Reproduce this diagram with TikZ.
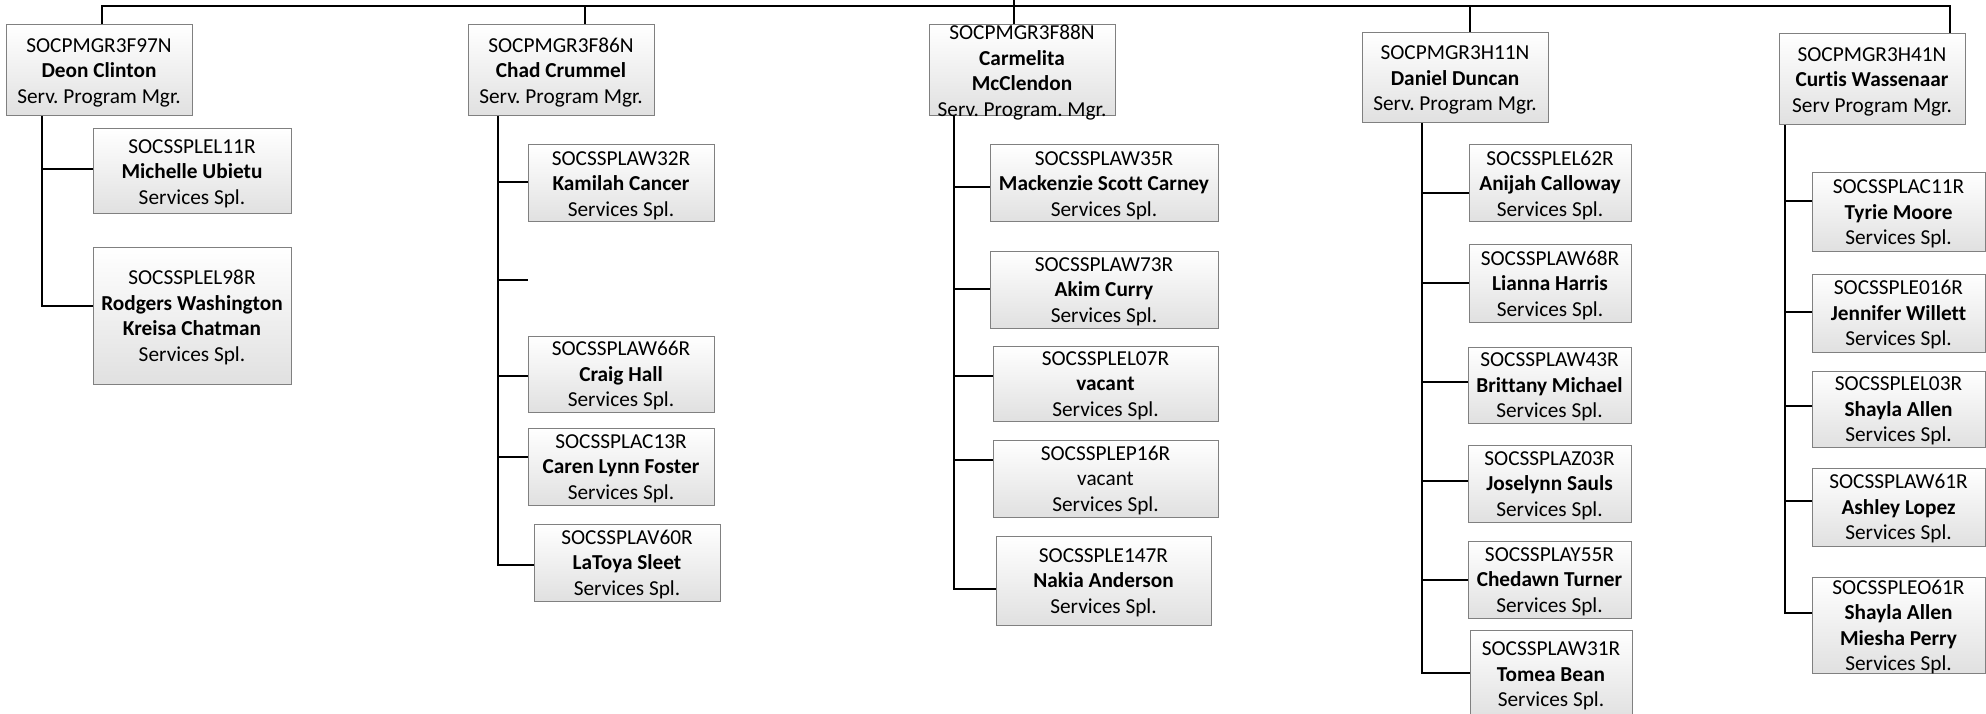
\documentclass[tikz,border=0pt]{standalone}
\usepackage{fontspec}
\setmainfont{Carlito}[Ligatures=NoCommon]
\frenchspacing
\usetikzlibrary{fit}
\tikzset{
  card/.style={draw=black!50, line width=1pt, top color=white, bottom color=black!12, inner sep=0pt, rectangle},
  txt/.style={align=center, inner sep=0pt, font=\fontsize{21.3}{25.5}\selectfont\frenchspacing, text=black, yshift=-2pt},
  conn/.style={draw=black, line width=2pt},
}
\newcommand\card[6]{\node[card, fit={(#2,#3)(#4,#5)}] (#1) {};
  \node[txt] (#1t) at (#1.center) {#6};}
\newcommand\branch[4]{\coordinate (#1) at ([yshift=#4]#3.west);
  \draw[conn] (#1 -| #2) -- (#1);}
\begin{document}
\begin{tikzpicture}[x=1pt,y=-1pt]
\clip (0,0) rectangle (1986,714);
\fill[white] (0,0) rectangle (1986,714);

% managers
\card{m1}{6}{25}{192}{116}{SOCPMGR3F97N\\\textbf{Deon Clinton}\\Serv. Program Mgr.}
\card{m2}{468}{25}{654}{116}{SOCPMGR3F86N\\\textbf{Chad Crummel}\\Serv. Program Mgr.}
\card{m3}{929}{25}{1115}{116}{SOCPMGR3F88N\\\textbf{Carmelita}\\\textbf{McClendon}\\Serv. Program. Mgr.}
\card{m4}{1362}{33}{1548}{123}{SOCPMGR3H11N\\\textbf{Daniel Duncan}\\Serv. Program Mgr.}
\card{m5}{1779}{34}{1965}{125}{SOCPMGR3H41N\\\textbf{Curtis Wassenaar}\\Serv Program Mgr.}

% column 1
\card{c1a}{93}{129}{291}{214}{SOCSSPLEL11R\\\textbf{Michelle Ubietu}\\Services Spl.}
\card{c1b}{93}{247}{291}{384}{SOCSSPLEL98R\\\textbf{Rodgers Washington}\\\textbf{Kreisa Chatman}\\Services Spl.}
% column 2
\card{c2a}{528}{145}{714}{222}{SOCSSPLAW32R\\\textbf{Kamilah Cancer}\\Services Spl.}
\card{c2b}{528}{336}{714}{412}{SOCSSPLAW66R\\\textbf{Craig Hall}\\Services Spl.}
\card{c2c}{528}{428}{714}{505}{SOCSSPLAC13R\\\textbf{Caren Lynn Foster}\\Services Spl.}
\card{c2d}{534}{524}{720}{601}{SOCSSPLAV60R\\\textbf{LaToya Sleet}\\Services Spl.}
% column 3
\card{c3a}{990}{145}{1218}{222}{SOCSSPLAW35R\\\textbf{Mackenzie Scott Carney}\\Services Spl.}
\card{c3b}{990}{251}{1218}{328}{SOCSSPLAW73R\\\textbf{Akim Curry}\\Services Spl.}
\card{c3c}{993}{346}{1218}{421}{SOCSSPLEL07R\\\textbf{vacant}\\Services Spl.}
\card{c3d}{993}{440}{1218}{517}{SOCSSPLEP16R\\vacant\\Services Spl.}
\card{c3e}{996}{536}{1211}{625}{SOCSSPLE147R\\\textbf{Nakia Anderson}\\Services Spl.}
% column 4
\card{c4a}{1469}{145}{1631}{222}{SOCSSPLEL62R\\\textbf{Anijah Calloway}\\Services Spl.}
\card{c4b}{1469}{244}{1631}{322}{SOCSSPLAW68R\\\textbf{Lianna Harris}\\Services Spl.}
\card{c4c}{1468}{347}{1631}{423}{SOCSSPLAW43R\\\textbf{Brittany Michael}\\Services Spl.}
\card{c4d}{1468}{445}{1631}{522}{SOCSSPLAZ03R\\\textbf{Joselynn Sauls}\\Services Spl.}
\card{c4e}{1468}{541}{1631}{618}{SOCSSPLAY55R\\\textbf{Chedawn Turner}\\Services Spl.}
\card{c4f}{1470}{630}{1632}{718}{SOCSSPLAW31R\\\textbf{Tomea Bean}\\Services Spl.}
% column 5
\card{c5a}{1812}{173}{1985}{251}{SOCSSPLAC11R\\\textbf{Tyrie Moore}\\Services Spl.}
\card{c5b}{1812}{274}{1985}{352}{SOCSSPLE016R\\\textbf{Jennifer Willett}\\Services Spl.}
\card{c5c}{1812}{371}{1985}{447}{SOCSSPLEL03R\\\textbf{Shayla Allen}\\Services Spl.}
\card{c5d}{1812}{468}{1985}{546}{SOCSSPLAW61R\\\textbf{Ashley Lopez}\\Services Spl.}
\card{c5e}{1812}{577}{1985}{673}{SOCSSPLEO61R\\\textbf{Shayla Allen}\\\textbf{Miesha Perry}\\Services Spl.}

% top bus
\coordinate (b1) at (101.7,6);
\coordinate (b2) at (585,6);
\coordinate (b3) at (1014,0);
\coordinate (b4) at (1470,6);
\coordinate (b5) at (1950,6);
\draw[conn] (b1 |- m1.north) -- (b1) -- (b5) -- (b5 |- m5.north);
\draw[conn] (b2) -- (b2 |- m2.north);
\draw[conn] (b3) -- (b3 |- m3.north);
\draw[conn] (b4) -- (b4 |- m4.north);

% trunks
\coordinate (k1) at (42,0);
\coordinate (k2) at (498.3,0);
\coordinate (k3) at (953.7,0);
\coordinate (k4) at (1422,0);
\coordinate (k5) at (1784.7,0);

\branch{j1a}{k1}{c1a}{2.5pt}
\branch{j1b}{k1}{c1b}{9.5pt}
\draw[conn] (m1.south -| k1) |- (j1b);

\branch{j2a}{k2}{c2a}{1.5pt}
\coordinate (s2) at (528,280);
\draw[conn] (s2 -| k2) -- (s2);
\branch{j2b}{k2}{c2b}{-2pt}
\branch{j2c}{k2}{c2c}{9.5pt}
\branch{j2d}{k2}{c2d}{-2.5pt}
\draw[conn] (m2.south -| k2) |- (j2d);

\branch{j3a}{k3}{c3a}{-3.5pt}
\branch{j3b}{k3}{c3b}{0.5pt}
\branch{j3c}{k3}{c3c}{7.5pt}
\branch{j3d}{k3}{c3d}{18.5pt}
\branch{j3e}{k3}{c3e}{-8.5pt}
\draw[conn] (m3.south -| k3) |- (j3e);

\branch{j4a}{k4}{c4a}{-9.5pt}
\branch{j4b}{k4}{c4b}{0pt}
\branch{j4c}{k4}{c4c}{3pt}
\branch{j4d}{k4}{c4d}{2.5pt}
\branch{j4e}{k4}{c4e}{-0.5pt}
\branch{j4f}{k4}{c4f}{1pt}
\draw[conn] (m4.south -| k4) |- (j4f);

\branch{j5a}{k5}{c5a}{11pt}
\branch{j5b}{k5}{c5b}{1pt}
\branch{j5c}{k5}{c5c}{3pt}
\branch{j5d}{k5}{c5d}{6pt}
\branch{j5e}{k5}{c5e}{12pt}
\draw[conn] (m5.south -| k5) |- (j5e);
\end{tikzpicture}
\end{document}
